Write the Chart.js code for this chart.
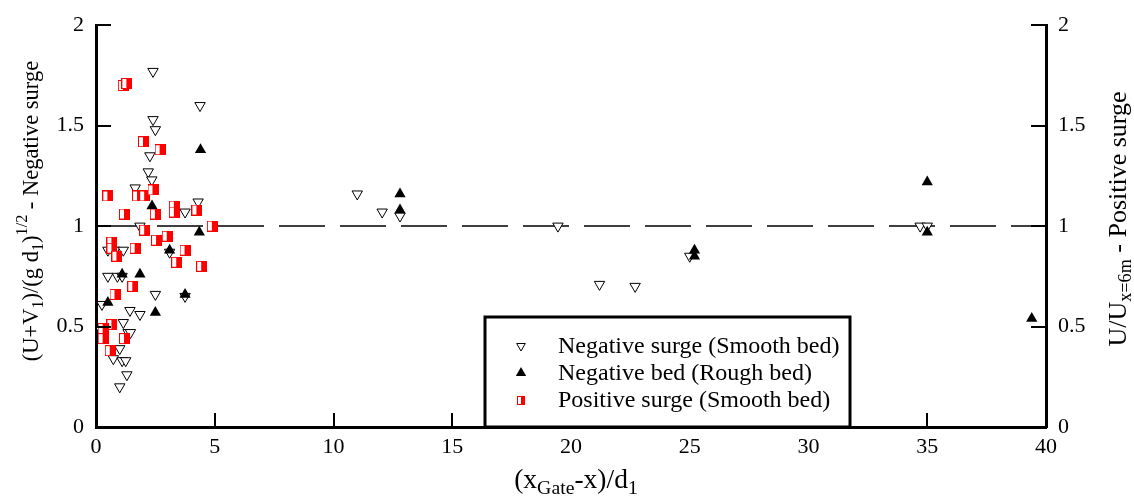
<!DOCTYPE html>
<html>
<head>
<meta charset="UTF-8">
<title>Surge velocity</title>
<script src="https://cdn.jsdelivr.net/npm/chart.js"></script>
<style>
  html, body { margin: 0; padding: 0; background: #fff; }
  #wrap { width: 1134px; height: 497px; }
</style>
</head>
<body>
<div id="wrap"><canvas id="grafico"></canvas></div>
<script>
// dados
const xTicks = [0, 5, 10, 15, 20, 25, 30, 35, 40];
const yTicks = [0, 0.5, 1, 1.5, 2];

const negSmoothX = [2.4, 4.38, 2.4, 2.5, 2.27, 2.2, 2.35, 1.65, 4.3, 3.75, 1.85, 0.5, 0.8, 1.15, 0.5, 0.9, 0.25, 1.43, 1.85, 2.5, 1.15, 0.17, 1.35, 1.45, 1.0, 0.73, 1.1, 1.25, 1.3, 1.0, 3.1, 3.75, 1.1, 11.0, 12.05, 12.8, 19.45, 21.2, 22.7, 25.0, 34.7, 35.0];
const negSmoothY = [1.77, 1.60, 1.53, 1.48, 1.35, 1.27, 1.23, 1.19, 1.12, 1.07, 1.0, 0.88, 0.88, 0.88, 0.75, 0.75, 0.61, 0.58, 0.56, 0.66, 0.52, 0.49, 0.47, 0.47, 0.39, 0.34, 0.33, 0.33, 0.26, 0.20, 0.87, 0.65, 0.75, 1.16, 1.07, 1.05, 1.0, 0.71, 0.70, 0.85, 1.0, 1.0];

const roughX = [4.4, 2.36, 4.35, 3.1, 1.1, 1.85, 0.5, 2.5, 3.75, 12.8, 12.8, 25.2, 25.2, 35.0, 35.0, 39.4];
const roughY = [1.38, 1.10, 0.97, 0.88, 0.76, 0.76, 0.62, 0.57, 0.66, 1.16, 1.08, 0.88, 0.85, 1.22, 0.97, 0.54];

const posSmoothX = [1.15, 1.3, 2.0, 2.7, 0.5, 1.75, 2.05, 2.4, 1.2, 2.5, 3.3, 3.3, 4.25, 4.9, 2.05, 2.55, 3.0, 0.67, 0.67, 0.88, 1.65, 3.75, 3.4, 4.45, 1.55, 0.8, 0.67, 0.3, 0.3, 1.2, 0.6];
const posSmoothY = [1.70, 1.71, 1.42, 1.38, 1.15, 1.15, 1.15, 1.18, 1.06, 1.06, 1.10, 1.07, 1.08, 1.0, 0.98, 0.93, 0.95, 0.92, 0.89, 0.85, 0.89, 0.88, 0.82, 0.80, 0.70, 0.66, 0.51, 0.49, 0.44, 0.44, 0.38];

const refLineX = [0, 40];
const refLineY = [1, 1];

const legendLabels = ['Negative surge (Smooth bed)', 'Negative bed (Rough bed)', 'Positive surge (Smooth bed)'];

const serif = '"Liberation Serif", "Times New Roman", serif';

function pares(xs, ys) {
    return xs.map((x, i) => ({ x: x, y: ys[i] }));
}

// quadrado meio branco / meio vermelho
function quadrado(w, h) {
    const c = document.createElement('canvas');
    c.width = w; c.height = h;
    const g = c.getContext('2d');
    g.fillStyle = '#fff';
    g.fillRect(0, 0, w, h);
    g.fillStyle = '#ff0000';
    g.fillRect(Math.floor(w / 2), 0, Math.ceil(w / 2), h);
    g.strokeStyle = '#ff0000';
    g.lineWidth = 1;
    g.strokeRect(0.5, 0.5, w - 1, h - 1);
    return c;
}
const marcaQuadrado = quadrado(11, 11);
const marcaQuadradoLeg = quadrado(8, 9);

// texto com subscrito / sobrescrito
function textoRico(ctx, partes, size, esc) {
    let total = 0;
    partes.forEach(p => {
        ctx.font = (p[1] ? size * esc : size) + 'px ' + serif;
        total += ctx.measureText(p[0]).width;
    });
    let x = -total / 2;
    partes.forEach(p => {
        ctx.font = (p[1] ? size * esc : size) + 'px ' + serif;
        let dy = 0;
        if (p[1] == 'sub') dy = size * 0.28;
        if (p[1] == 'sup') dy = -size * 0.42;
        ctx.fillText(p[0], x, dy);
        x += ctx.measureText(p[0]).width;
    });
}

function triangulo(ctx, x, y, r, baixo, cheio) {
    const s = baixo ? -1 : 1;
    ctx.beginPath();
    ctx.moveTo(x, y - s * r);
    ctx.lineTo(x + r * 0.866, y + s * r * 0.5);
    ctx.lineTo(x - r * 0.866, y + s * r * 0.5);
    ctx.closePath();
    if (cheio) { ctx.fillStyle = '#000'; ctx.fill(); }
    else { ctx.fillStyle = '#fff'; ctx.fill(); ctx.strokeStyle = '#000'; ctx.lineWidth = 1; ctx.stroke(); }
}

const extras = {
    id: 'extras',
    afterDraw(chart) {
        const ctx = chart.ctx;
        const a = chart.chartArea;
        const sx = chart.scales.x, sy = chart.scales.y;
        ctx.save();

        // marcas dos eixos para dentro
        ctx.strokeStyle = '#000';
        ctx.lineWidth = 2;
        ctx.beginPath();
        xTicks.forEach(v => {
            const px = Math.round(sx.getPixelForValue(v));
            ctx.moveTo(px, a.bottom);
            ctx.lineTo(px, a.bottom - 14);
        });
        yTicks.forEach(v => {
            const py = Math.round(sy.getPixelForValue(v));
            ctx.moveTo(a.left, py);
            ctx.lineTo(a.left + 15, py);
            ctx.moveTo(a.right, py);
            ctx.lineTo(a.right - 15, py);
        });
        ctx.stroke();

        ctx.fillStyle = '#000';
        ctx.textBaseline = 'middle';

        // títulos dos eixos
        ctx.save();
        ctx.translate(32, 211);
        ctx.rotate(-Math.PI / 2);
        textoRico(ctx, [['(U+V'], ['1', 'sub'], [')/(g d'], ['1', 'sub'], [')'], ['1/2', 'sup'], [' - Negative surge']], 22.5, 0.72);
        ctx.restore();

        ctx.save();
        ctx.translate(1119, 219);
        ctx.rotate(-Math.PI / 2);
        textoRico(ctx, [['U/U'], ['x=6m', 'sub'], [' - Positive surge']], 26, 0.7);
        ctx.restore();

        ctx.save();
        ctx.translate(576, 481);
        textoRico(ctx, [['(x'], ['Gate', 'sub'], ['-x)/d'], ['1', 'sub']], 27.5, 0.72);
        ctx.restore();

        // legenda
        const bx = 485, by = 317, bw = 365, bh = 110;
        ctx.fillStyle = '#fff';
        ctx.fillRect(bx, by, bw, bh);
        ctx.strokeStyle = '#000';
        ctx.lineWidth = 3;
        ctx.strokeRect(bx, by, bw, bh);
        const linhas = [346, 373, 400];
        triangulo(ctx, 521, linhas[0], 5, true, false);
        triangulo(ctx, 521, linhas[1], 6, false, true);
        ctx.drawImage(marcaQuadradoLeg, 517, linhas[2] - 4);
        ctx.fillStyle = '#000';
        ctx.font = '24px ' + serif;
        ctx.textAlign = 'left';
        legendLabels.forEach((t, i) => ctx.fillText(t, 558, linhas[i] + 1));
        ctx.restore();
    }
};

const eixoY = (pos, largura) => ({
    type: 'linear',
    position: pos,
    display: true,
    min: 0,
    max: 2,
    afterFit: s => { s.width = largura; },
    afterBuildTicks: s => { s.ticks = yTicks.map(v => ({ value: v })); },
    grid: { display: false, drawTicks: false },
    border: { display: true, width: 3, color: '#000' },
    ticks: {
        color: '#000',
        padding: 12,
        font: { family: serif, size: 22 },
        callback: v => String(v)
    }
});

const config = {
    type: 'scatter',
    data: {
        datasets: [
            {
                label: legendLabels[2],
                data: pares(posSmoothX, posSmoothY),
                pointStyle: marcaQuadrado,
                pointRadius: 6,
                yAxisID: 'y'
            },
            {
                label: legendLabels[1],
                data: pares(roughX, roughY),
                pointStyle: 'triangle',
                pointRadius: 6.5,
                backgroundColor: '#000',
                borderColor: '#000',
                borderWidth: 0,
                yAxisID: 'y'
            },
            {
                label: legendLabels[0],
                data: pares(negSmoothX, negSmoothY),
                pointStyle: 'triangle',
                rotation: 180,
                pointRadius: 6,
                backgroundColor: '#fff',
                borderColor: '#000',
                borderWidth: 1,
                yAxisID: 'y'
            },
            {
                type: 'line',
                label: 'ref',
                data: pares(refLineX, refLineY),
                borderColor: '#000',
                borderWidth: 1.5,
                borderDash: [46, 15],
                pointRadius: 0,
                fill: false,
                yAxisID: 'y'
            }
        ]
    },
    options: {
        responsive: true,
        maintainAspectRatio: false,
        animation: false,
        layout: { padding: { top: 20, left: 0, right: 0, bottom: 0 } },
        plugins: { legend: { display: false }, tooltip: { enabled: false } },
        scales: {
            x: {
                type: 'linear',
                min: 0,
                max: 40,
                afterFit: s => { s.height = 70; },
                afterBuildTicks: s => { s.ticks = xTicks.map(v => ({ value: v })); },
                grid: { display: false, drawTicks: false },
                border: { display: true, width: 3, color: '#000' },
                ticks: { color: '#000', padding: 7, maxRotation: 0, font: { family: serif, size: 22 } }
            },
            y: eixoY('left', 96),
            y2: eixoY('right', 88)
        }
    },
    plugins: [extras]
};

new Chart(document.getElementById('grafico').getContext('2d'), config);
</script>
</body>
</html>
